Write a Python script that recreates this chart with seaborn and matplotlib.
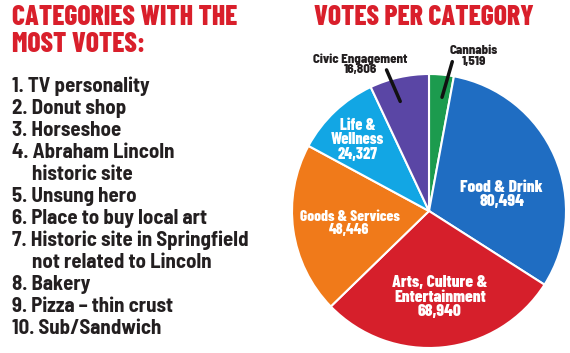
import numpy as np
import seaborn as sns
import matplotlib.pyplot as plt

# data
categories = ['Cannabis', 'Food & Drink', 'Arts, Culture &\nEntertainment',
              'Goods & Services', 'Life &\nWellness', 'Civic Engagement']
votes = [1519, 80494, 68940, 48446, 24327, 16806]
# slice sizes as drawn in the graphic (the tiny Cannabis slice is enlarged)
wedge_votes = [7000, 74800, 68940, 48446, 24327, 16806]
colors = ['#1c9b4e', '#1f6dc2', '#d61f2b', '#f07a1a', '#12a6e4', '#5a46a5']

top_list = ['1. TV personality', '2. Donut shop', '3. Horseshoe',
            '4. Abraham Lincoln', 'historic site', '5. Unsung hero',
            '6. Place to buy local art', '7. Historic site in Springfield',
            'not related to Lincoln', '8. Bakery', '9. Pizza \u2013 thin crust',
            '10. Sub/Sandwich']

sns.set_style('white')
plt.rcParams['font.family'] = ['Barlow Condensed', 'Roboto Condensed', 'DejaVu Sans']
plt.rcParams['font.weight'] = 'bold'
semi = ['Barlow Semi Condensed', 'Barlow Condensed', 'DejaVu Sans']

W, H = 570, 353
fig = plt.figure(figsize=(W / 100, H / 100), dpi=100)
fig.patch.set_facecolor('white')

def fx(x):
    return x / W

def fy(y):
    return 1 - y / H

red = '#d91f2b'
dark = '#231f20'
fig.text(fx(12), fy(25), 'CATEGORIES WITH THE', color=red, fontsize=19.8,
         fontweight='heavy', va='baseline', ha='left')
fig.text(fx(12), fy(52), 'MOST VOTES:', color=red, fontsize=19.8,
         fontweight='heavy', va='baseline', ha='left')
for i, item in enumerate(top_list):
    x = 12 if item[0].isdigit() else 32
    fig.text(fx(x), fy(92.5 + i * 22.0), item, color=dark, family=semi,
             fontsize=15, fontweight='bold', va='baseline', ha='left')

fig.text(fx(424), fy(25), 'VOTES PER CATEGORY', color=red, fontsize=19.8,
         fontweight='heavy', va='baseline', ha='center')

# pie
ax = fig.add_axes([292 / W, 5 / H, 274 / W, 274 / H])
ax.pie(wedge_votes, colors=colors, startangle=90, counterclock=False,
       wedgeprops=dict(edgecolor='white', linewidth=1.5))
ax.set_xlim(-1, 1)
ax.set_ylim(-1, 1)
ax.set_aspect('equal')
ax.axis('off')

def lab(i):
    return f'{categories[i]}\n{votes[i]:,}'

kw = dict(ha='center', va='center', linespacing=0.95, clip_on=False,
          fontweight='heavy')
ax.text(0.53, 0.12, lab(1), color='white', fontsize=12.5, **kw)
ax.text(0.08, -0.63, lab(2), color='white', fontsize=12.5, **kw)
ax.text(-0.58, -0.09, lab(3), color='white', fontsize=11, **kw)
ax.text(-0.52, 0.52, lab(4), color='white', fontsize=11.5, **kw)
ax.text(-0.50, 1.07, lab(5), color=dark, fontsize=9.3, family=semi, **kw)
ax.text(0.33, 1.13, lab(0), color=dark, fontsize=9.3, family=semi, **kw)
ax.plot([-0.31, -0.21], [1.03, 0.80], color='#111111', lw=2.5, clip_on=False)
ax.plot([0.17, 0.095], [1.09, 0.83], color='#111111', lw=2.5, clip_on=False)

fig.savefig('out.png', dpi=100)
